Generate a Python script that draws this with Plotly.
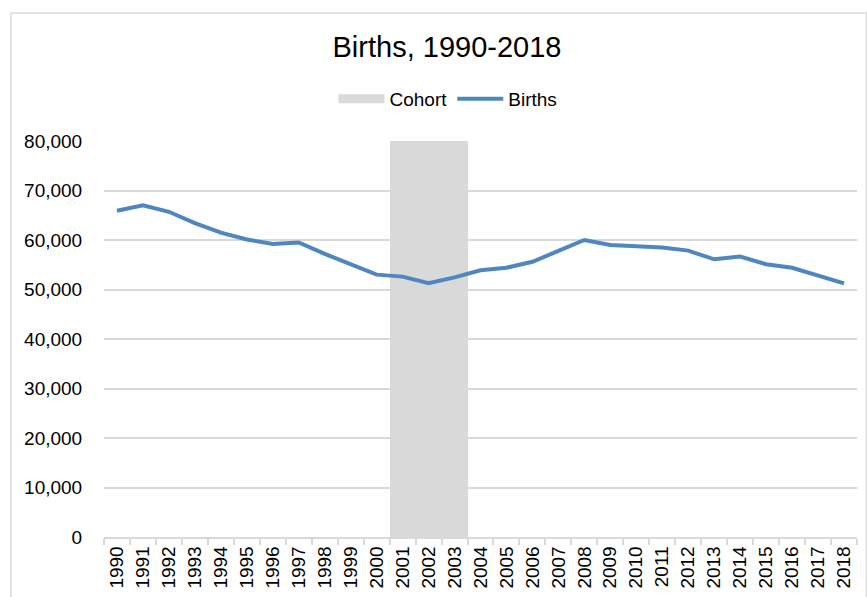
import plotly.graph_objects as go

years = [str(y) for y in range(1990, 2019)]
births = [65900, 67000, 65700, 63400, 61500, 60100, 59200, 59500, 57200, 55000,
          53000, 52600, 51250, 52450, 53900, 54400, 55600, 57800, 60000, 59000,
          58800, 58500, 57850, 56100, 56650, 55100, 54400, 52750, 51250]
cohort_years = ["2001", "2002", "2003"]
cohort_values = [80000, 80000, 80000]
y_ticks = [0, 10000, 20000, 30000, 40000, 50000, 60000, 70000, 80000]

GRID = "#d9d9d9"
BLUE = "#4f86c0"
FONT = "Liberation Sans, Arial, sans-serif"

fig = go.Figure()
fig.add_trace(go.Bar(x=cohort_years, y=cohort_values, width=1, marker=dict(color=GRID, line=dict(width=0)),
                     name="Cohort", showlegend=False, hoverinfo="skip"))
fig.add_trace(go.Scatter(x=[None], y=[None], mode="lines", line=dict(color=GRID, width=9),
                         name="Cohort", showlegend=True))
fig.add_trace(go.Scatter(x=years, y=births, mode="lines", line=dict(color=BLUE, width=4),
                         name="Births", showlegend=True))

fig.update_layout(
    width=867, height=597,
    margin=dict(l=104, r=10, t=141, b=60),
    paper_bgcolor="white", plot_bgcolor="white",
    font=dict(family=FONT, size=19, color="#000000"),
    title=dict(text="Births, 1990-2018", x=447/867, xref="container", xanchor="center",
               y=1 - 47/597, yref="container", yanchor="middle",
               font=dict(size=29, color="#000000")),
    legend=dict(orientation="h", x=(448-104)/753, xanchor="center", y=(537-99)/396, yanchor="middle",
                font=dict(size=19), bgcolor="rgba(0,0,0,0)", itemwidth=46, tracegroupgap=0),
    bargap=0,
    showlegend=True,
)
fig.update_xaxes(type="category", categoryorder="array", categoryarray=years,
                 tickmode="array", tickvals=years, ticktext=years, automargin=False,
                 tickangle=-90, tickson="boundaries", ticks="outside", ticklen=6,
                 tickcolor=GRID, tickwidth=1.5, showline=True, linecolor=GRID, linewidth=1.5,
                 showgrid=False, range=[-0.5, 28.5], tickfont=dict(size=19))
fig.update_yaxes(range=[0, 80000], tickvals=y_ticks, tickformat=",", showgrid=True, automargin=False,
                 gridcolor=GRID, gridwidth=1.5, zeroline=False, showline=False,
                 ticks="outside", ticklen=17, tickcolor="rgba(0,0,0,0)", tickfont=dict(size=19))

fig.add_shape(type="rect", xref="paper", yref="paper",
              x0=(11-104)/753, x1=(866.5-104)/753, y0=(537-610)/396, y1=(537-13)/396,
              line=dict(color=GRID, width=1.5), fillcolor="rgba(0,0,0,0)", layer="below")

fig.write_html("out.html", config={"displayModeBar": False},
               post_script="document.body.style.margin='0';document.body.style.overflow='hidden';")
